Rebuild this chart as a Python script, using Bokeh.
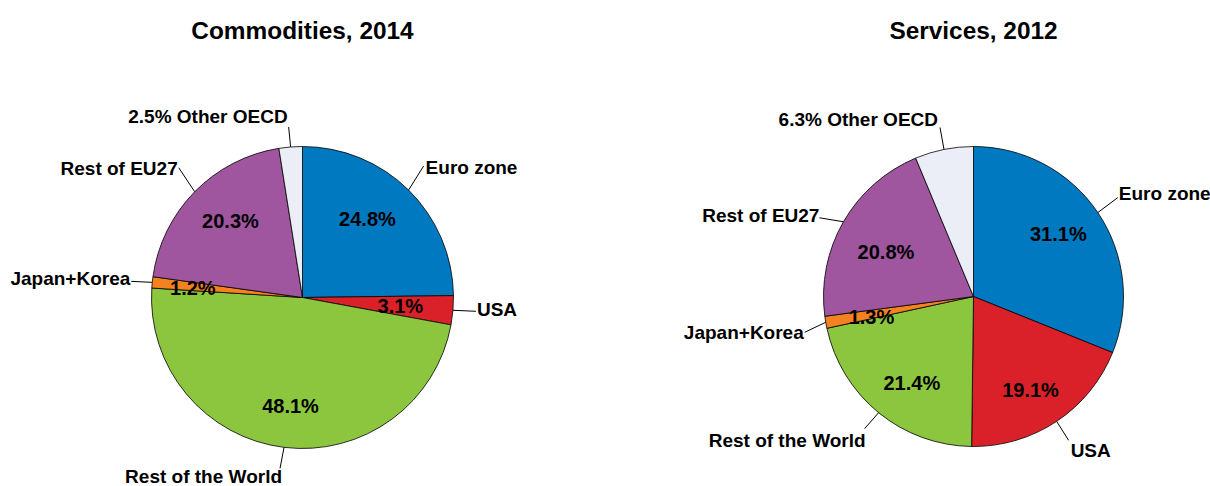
import math
from bokeh.plotting import figure
from bokeh.models import Range1d, ColumnDataSource
from bokeh.core.properties import value
from bokeh.embed import file_html
from bokeh.resources import INLINE

# ---------------- data ----------------
categories = ["Euro zone", "USA", "Rest of the World", "Japan+Korea", "Rest of EU27", "Other OECD"]
commodities_2014 = [24.8, 3.1, 48.1, 1.2, 20.3, 2.5]
services_2012 = [31.1, 19.1, 21.4, 1.3, 20.8, 6.3]
titles = ["Commodities, 2014", "Services, 2012"]
colors = ["#0079C1", "#DA2129", "#8CC63F", "#F58220", "#A0559F", "#EBEEF6"]

# ---------------- layout (screen-pixel offsets) ----------------
W, H = 1210, 486
FONT = value("Liberation Sans")

pies = [
    dict(values=commodities_2014, title=titles[0], cx=302, cy=H - 297, r=151,
         # leader end offset from slice edge (dx, dy screen px)
         lead=[(15, -24), (23, 1), (-4, 21), (-21, -1), (-16, -24), (-2, -20)],
         # text offset from leader end, alignment
         txt=[(2, 1, "left"), (1, -2, "left"), (2, 8, "right"), (-1, -3, "right"),
              (-1, 1, "right"), (-1, -10, "right")],
         # percent label offsets from mid-angle point at 0.65 r
         pct=[(-4, -9), (0, 0), (0, 11), (-12, 0), (-2, -8), None]),
    dict(values=services_2012, title=titles[1], cx=973, cy=H - 296, r=150,
         lead=[(20, -15), (12, 19), (-14, 16), (-21, 10), (-24, -4), (-4, -22)],
         txt=[(1, -4, "left"), (2, 10, "left"), (1, 12, "right"), (-1, 0, "right"),
              (0, -2, "right"), (-2, -8, "right")],
         pct=[(4, -8), (3, 12), (0, 11), (-6, 4), (-3, 4), None]),
]

p = figure(width=W, height=H, x_range=Range1d(0, W), y_range=Range1d(0, H),
           output_backend="svg", toolbar_location=None,
           x_axis_location=None, y_axis_location=None, min_border=0)
p.grid.visible = False
p.outline_line_color = None
p.background_fill_color = "white"

for pie in pies:
    vals = pie["values"]
    total = sum(vals)
    cx, cy, r = pie["cx"], pie["cy"], pie["r"]
    starts, ends, mids = [], [], []
    cum = 0.0
    for v in vals:
        t0 = 2 * math.pi * cum / total
        cum += v
        t1 = 2 * math.pi * cum / total
        starts.append(math.pi / 2 - t0)
        ends.append(math.pi / 2 - t1)
        mids.append((t0 + t1) / 2)
    src = ColumnDataSource(dict(x=[cx] * len(vals), y=[cy] * len(vals), start=starts,
                                end=ends, color=colors, name=categories))
    p.wedge(x="x", y="y", radius=r, start_angle="start", end_angle="end",
            direction="clock", fill_color="color", line_color="black",
            line_width=0.8, source=src)

    # leaders and outer labels
    lx0, ly0, lx1, ly1 = [], [], [], []
    groups = {"left": dict(x=[], y=[], text=[]), "right": dict(x=[], y=[], text=[])}
    for i, (v, m) in enumerate(zip(vals, mids)):
        ex = cx + r * math.sin(m)
        ey = cy + r * math.cos(m)
        dx, dy = pie["lead"][i]
        ux, uy = ex + dx, ey - dy
        lx0.append(ex); ly0.append(ey); lx1.append(ux); ly1.append(uy)
        tdx, tdy, al = pie["txt"][i]
        label = categories[i]
        if pie["pct"][i] is None:
            label = f"{v:.1f}% {label}"
        groups[al]["x"].append(ux + tdx)
        groups[al]["y"].append(uy - tdy)
        groups[al]["text"].append(label)
    p.segment(x0=lx0, y0=ly0, x1=lx1, y1=ly1, line_color="black", line_width=1)
    for al, g in groups.items():
        p.text(x=g["x"], y=g["y"], text=g["text"], text_align=al,
               text_baseline="middle", text_font=FONT, text_font_style="bold",
               text_font_size="19px", text_color="black")

    # percent labels inside
    px, py, pt = [], [], []
    for i, (v, m) in enumerate(zip(vals, mids)):
        off = pie["pct"][i]
        if off is None:
            continue
        rr = 0.65 * r
        px.append(cx + rr * math.sin(m) + off[0])
        py.append(cy + rr * math.cos(m) - off[1])
        pt.append(f"{v:.1f}%")
    p.text(x=px, y=py, text=pt, text_align="center", text_baseline="middle",
           text_font=FONT, text_font_style="bold", text_font_size="20px",
           text_color="black")

    # title
    p.text(x=[cx], y=[H - 30], text=[pie["title"]], text_align="center",
           text_baseline="middle", text_font=FONT, text_font_style="bold",
           text_font_size="24.4px", text_color="black")

open("out.html", "w").write(file_html(p, INLINE))
